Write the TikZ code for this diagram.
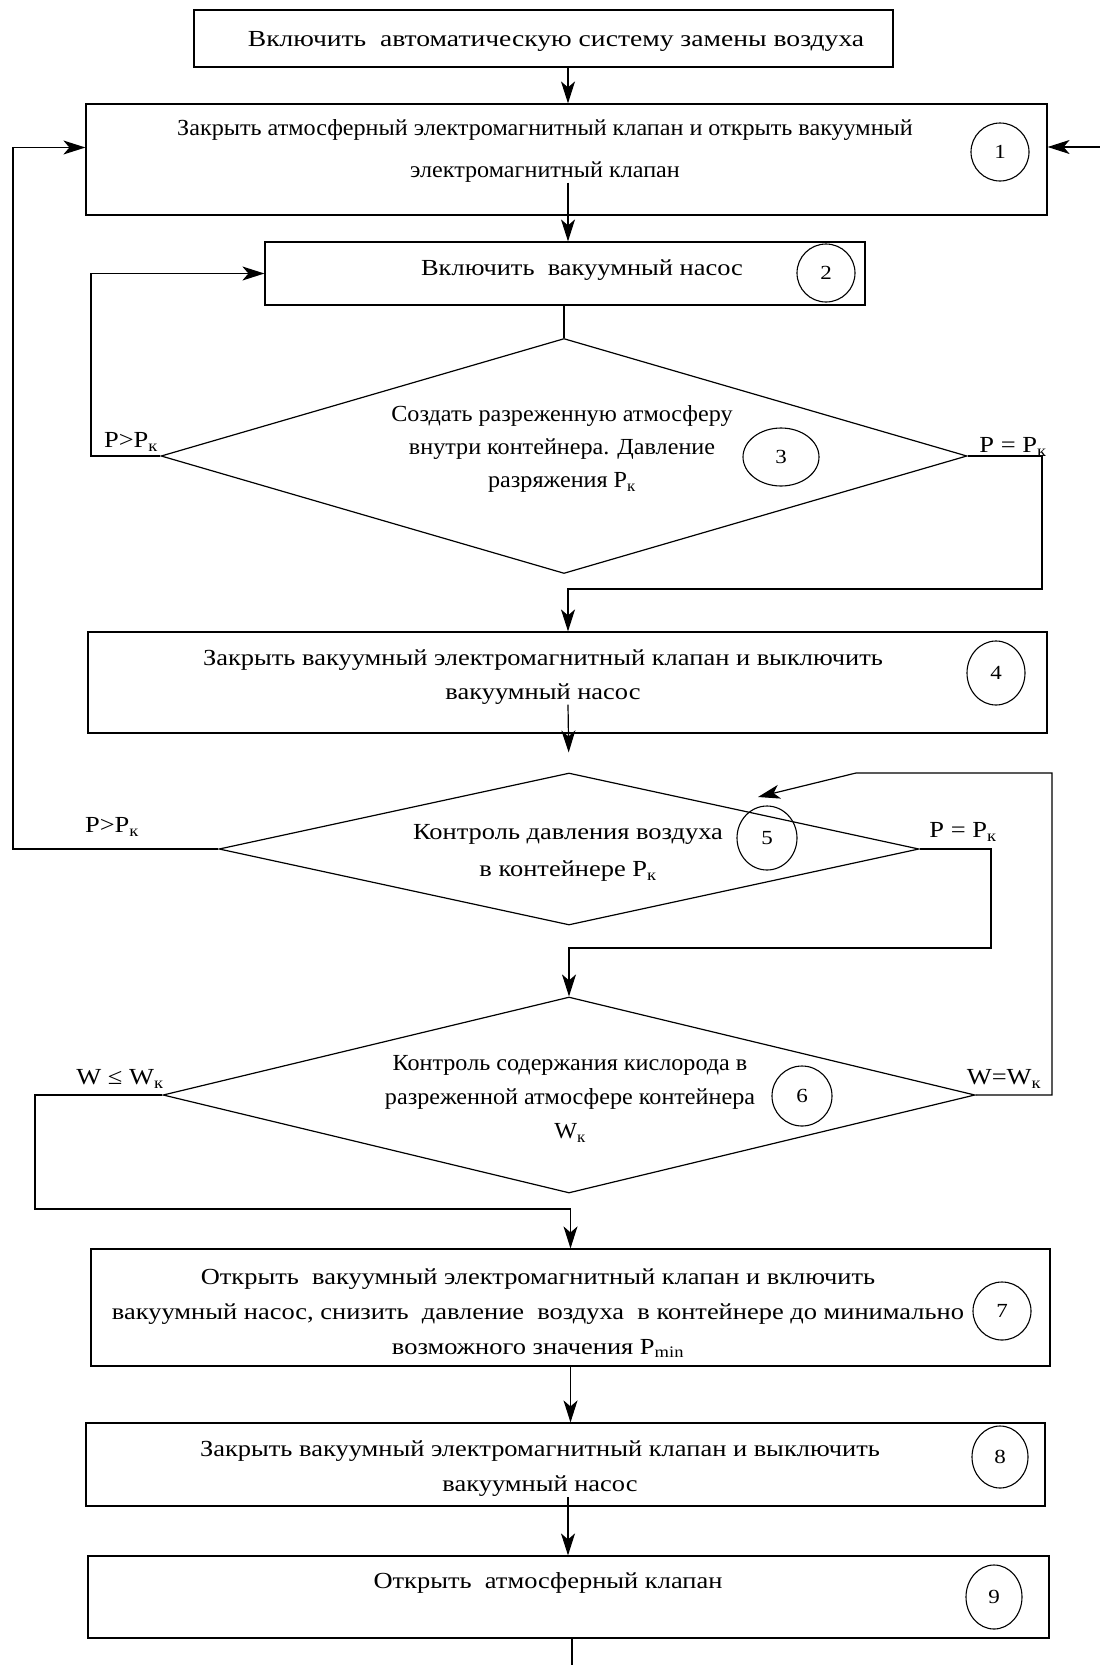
\documentclass[tikz,border=0pt]{standalone}
\usepackage{fontspec}
\setmainfont{Liberation Serif}[FakeStretch=1.15]
\newfontfamily\narrowfont{Liberation Serif}[FakeStretch=1.05]
\newfontfamily\widefont{Liberation Serif}[FakeStretch=1.2]
\usetikzlibrary{shapes.geometric,arrows.meta}
\begin{document}
\begin{tikzpicture}[x=1pt,y=-1pt,
  box/.style={draw, line width=1.2pt, inner sep=0pt},
  dec/.style={draw, diamond, line width=1.2pt, inner sep=0pt},
  txt/.style={font=\fontsize{23}{35}\selectfont, align=center, inner sep=0pt},
  lab/.style={font=\fontsize{23}{28}\selectfont, inner sep=0pt},
  num/.style={draw, ellipse, line width=1.1pt, inner sep=0pt, font=\fontsize{20}{20}\selectfont},
  ln/.style={line width=1.2pt},
  arr/.style={line width=1.2pt, -{Stealth[length=22pt,width=14pt,inset=6pt]}}]
\useasboundingbox (0,0) rectangle (1100,1665);
\fill[white] (0,0) rectangle (1100,1665);

% axis and bend points
\coordinate (ax) at (568,0);
\coordinate (rin) at (1100,147);
\coordinate (pL3) at (91,456);
\coordinate (pR3) at (1042,589);
\coordinate (pL5) at (13,849);
\coordinate (pR5) at (991,948);
\coordinate (pR6) at (1052,773);
\coordinate (pK6) at (856,773);
\coordinate (pTip) at (758,797);
\coordinate (pL6) at (35,1209);
\coordinate (pEnd) at (572,1665);

% boxes
\node[box, minimum width=699pt, minimum height=57pt] (b0) at (543.5,38.5) {};
\node[txt, font=\widefont\fontsize{23}{35}\selectfont] (t0) at (556,41) {Включить\ \ автоматическую систему замены воздуха};

\node[box, minimum width=961pt, minimum height=111pt] (b1) at (566.5,159.5) {};
\node[txt, font=\narrowfont\fontsize{23}{42}\selectfont] (t1) at (545,151) {Закрыть атмосферный электромагнитный клапан и открыть вакуумный\\электромагнитный клапан};
\node[num, minimum width=58pt, minimum height=58pt] (c1) at (1000,152) {1};

\node[box, minimum width=600pt, minimum height=63pt] (b2) at (565,273.5) {};
\node[txt] (t2) at (582,270) {Включить\ \ вакуумный насос};
\node[num, minimum width=58pt, minimum height=58pt] (c2) at (826,273) {2};

\node[dec, minimum width=806pt, minimum height=235pt] (d3) at (564,456) {};
\node[txt, font=\narrowfont\fontsize{23}{33}\selectfont] (t3) at (562,449) {Создать разреженную атмосферу\\внутри контейнера. Давление\\разряжения P\textsubscript{к}};
\node[num, minimum width=76pt, minimum height=58pt] (c3) at (781,457) {3};

\node[box, minimum width=959pt, minimum height=101pt] (b4) at (567.5,682.5) {};
\node[txt, font=\fontsize{23}{34}\selectfont] (t4) at (543,677) {Закрыть вакуумный электромагнитный клапан и выключить\\вакуумный насос};
\node[num, minimum width=58pt, minimum height=64pt] (c4) at (996,673) {4};

\node[dec, minimum width=700pt, minimum height=152pt] (d5) at (569,849) {};
\node[txt, font=\fontsize{23}{37}\selectfont] (t5) at (568,853) {Контроль давления воздуха\\в контейнере P\textsubscript{к}};
\node[num, minimum width=60pt, minimum height=64pt] (c5) at (767,838) {5};

\node[dec, minimum width=812pt, minimum height=196pt] (d6) at (569,1095) {};
\node[txt, font=\narrowfont\fontsize{23}{34}\selectfont] (t6) at (570,1099) {Контроль содержания кислорода в\\разреженной атмосфере контейнера\\W\textsubscript{к}};
\node[num, minimum width=60pt, minimum height=60pt] (c6) at (802,1096) {6};

\node[box, minimum width=959pt, minimum height=117pt] (b7) at (570.5,1307.5) {};
\node[txt] (t7) at (538,1313) {Открыть\ \ вакуумный электромагнитный клапан и включить\\вакуумный насос, снизить\ \ давление\ \ воздуха\ \ в контейнере до минимально\\возможного значения P\textsubscript{min}};
\node[num, minimum width=58pt, minimum height=58pt] (c7) at (1002,1311) {7};

\node[box, minimum width=959pt, minimum height=83pt] (b8) at (565.5,1464.5) {};
\node[txt] (t8) at (540,1469) {Закрыть вакуумный электромагнитный клапан и выключить\\вакуумный насос};
\node[num, minimum width=56pt, minimum height=62pt] (c8) at (1000,1457) {8};

\node[box, minimum width=961pt, minimum height=82pt] (b9) at (568.5,1597) {};
\node[txt] (t9) at (548,1583) {Открыть\ \ атмосферный клапан};
\node[num, minimum width=56pt, minimum height=64pt] (c9) at (994,1597) {9};

% branch labels
\node[lab] (l3a) at (131,442) {P>P\textsubscript{к}};
\node[lab] (l3b) at (1013,447) {P = P\textsubscript{к}};
\node[lab] (l5a) at (112,827) {P>P\textsubscript{к}};
\node[lab] (l5b) at (963,832) {P = P\textsubscript{к}};
\node[lab] (l6a) at (120,1079) {W ≤ W\textsubscript{к}};
\node[lab] (l6b) at (1004,1079) {W=W\textsubscript{к}};

% connectors
\draw[arr] (ax |- b0.south) -- (ax |- b1.north);
\draw[arr] (rin) -- (rin -| b1.east);
\draw[arr] (ax |- t1.south) -- (ax |- b2.north);
\draw[ln] (d3.north |- b2.south) -- (d3.north);
\draw[arr] (d3.west) -- (pL3) |- (b2.west);
\draw[arr] (d3.east) -| (pR3) -| (ax |- b4.north);
\draw[arr, shorten >=20pt] (ax |- t4.south) -- (d5.north);
\draw[arr] (d5.west) -- (pL5) |- ([yshift=12pt]b1.west);
\draw[arr] (d5.east) -| (pR5) -| (d6.north);
\draw[arr] (d6.east) -| (pR6) -- (pK6) -- (pTip);
\draw[arr] (d6.west) -| (pL6) -| (b7.north);
\draw[arr] (b7.south) -- (b7.south |- b8.north);
\draw[arr] (ax |- t8.south) -- (ax |- b9.north);
\draw[ln] (pEnd |- b9.south) -- (pEnd);
\end{tikzpicture}
\end{document}
